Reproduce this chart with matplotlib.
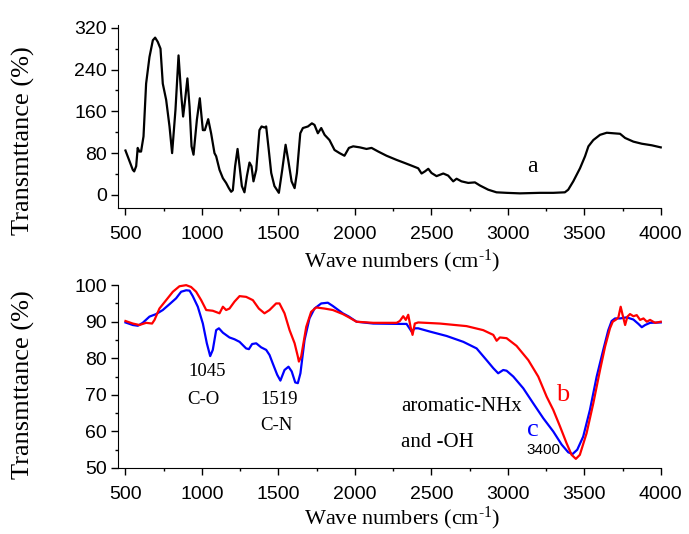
import numpy as np
import matplotlib.pyplot as plt
from matplotlib.ticker import MultipleLocator

# FTIR spectra
# (a) top panel
wa = [500, 548, 557, 570, 580, 591, 602, 618, 635, 657, 679, 694, 711, 729, 744,
      766, 788, 805, 827, 847, 864, 877, 890, 905, 919, 932, 945, 967, 986, 1006,
      1019, 1041, 1060, 1082, 1093, 1115, 1137, 1158, 1176, 1191, 1202, 1217,
      1233, 1246, 1261, 1278, 1294, 1311, 1324, 1337, 1355, 1376, 1390, 1409,
      1420, 1437, 1453, 1474, 1503, 1525, 1547, 1564, 1586, 1606, 1621, 1643,
      1660, 1693, 1719, 1736, 1758, 1780, 1802, 1834, 1867, 1900, 1932, 1961,
      1989, 2033, 2076, 2109, 2153, 2207, 2273, 2327, 2371, 2414, 2436, 2458,
      2480, 2501, 2534, 2578, 2610, 2643, 2665, 2697, 2741, 2785, 2818, 2872,
      2926, 2992, 3079, 3210, 3297, 3373, 3395, 3428, 3472, 3505, 3527, 3559,
      3603, 3647, 3690, 3734, 3767, 3821, 3876, 3941, 4000]
ta = [85, 48, 45, 55, 90, 83, 83, 112, 213, 264, 296, 301, 293, 280, 213,
      182, 131, 80, 163, 267, 194, 150, 182, 223, 169, 93, 77, 144, 185, 124,
      124, 145, 118, 80, 74, 48, 32, 23, 13, 6, 9, 55,
      88, 55, 17, 5, 36, 62, 55, 26, 48, 124, 131, 129,
      131, 86, 42, 17, 4, 48, 96, 67, 26, 13, 42, 118,
      128, 131, 137, 134, 118, 128, 115, 105, 86, 80, 75, 90,
      93, 91, 88, 90, 83, 75, 67, 61, 56, 51, 41, 45,
      50, 42, 36, 41, 37, 26, 31, 26, 23, 24, 18, 10,
      5, 4, 3, 4, 4, 5, 10, 26, 51, 74, 93, 105,
      115, 119, 118, 117, 109, 102, 98, 95, 91]

# (b) red curve, bottom panel
wb = [500, 548, 591, 635, 674, 690, 722, 766, 810, 853, 897, 929, 962, 995,
      1028, 1071, 1115, 1137, 1158, 1180, 1213, 1246, 1289, 1333, 1372, 1409,
      1442, 1485, 1507, 1540, 1573, 1606, 1627, 1634, 1649, 1682, 1714, 1747,
      1802, 1856, 1921, 1961, 2011, 2120, 2273, 2294, 2316, 2333, 2349, 2364,
      2377, 2392, 2414, 2556, 2730, 2839, 2905, 2927, 2948, 2992, 3057, 3134,
      3199, 3254, 3297, 3341, 3384, 3417, 3445, 3471, 3515, 3559, 3603, 3636,
      3668, 3686, 3708, 3723, 3738, 3751, 3767, 3782, 3799, 3821, 3843, 3865,
      3887, 3909, 3930, 3963, 4000]
tb = [90.2, 89.5, 89.1, 89.7, 89.5, 90.5, 93.6, 95.9, 98.2, 99.7, 100, 99.5, 98.2, 95.9,
      93.2, 93.0, 92.3, 94.1, 93.2, 93.6, 95.5, 97.0, 96.8, 95.9, 93.6, 92.3,
      93.2, 95.0, 95.0, 92.3, 87.7, 84.1, 80.5, 79.1, 80.5, 88.6, 92.7, 93.9,
      93.6, 93.2, 92.1, 91.2, 90.0, 89.7, 89.7, 90.2, 91.5, 90.5, 91.9, 88.6,
      86.4, 89.5, 89.8, 89.5, 88.8, 87.7, 86.4, 84.8, 85.7, 85.5, 83.4, 79.5,
      75.0, 69.5, 65.9, 61.4, 56.8, 53.6, 52.5, 53.6, 59.5, 67.7, 76.8, 83.2,
      88.2, 90.0, 90.6, 91.2, 94.1, 91.8, 89.1, 91.4, 92.1, 91.5, 91.8, 90.5,
      90.9, 90.0, 90.5, 89.7, 90.0]

# (c) blue curve, bottom panel
wc = [500, 548, 581, 613, 657, 701, 744, 788, 831, 864, 897, 919, 940, 973,
      1006, 1032, 1054, 1071, 1093, 1111, 1137, 1180, 1213, 1246, 1289, 1307,
      1328, 1355, 1387, 1420, 1442, 1463, 1492, 1513, 1540, 1566, 1587, 1610,
      1627, 1644, 1671, 1703, 1736, 1780, 1823, 1856, 1921, 1961, 2011, 2120,
      2294, 2338, 2371, 2392, 2414, 2491, 2600, 2709, 2796, 2861, 2905, 2937,
      2970, 2992, 3036, 3101, 3166, 3232, 3297, 3352, 3395, 3423, 3454, 3493,
      3537, 3581, 3624, 3657, 3679, 3701, 3734, 3777, 3821, 3854, 3876, 3898,
      3930, 4000]
tc = [89.8, 89.1, 88.9, 89.7, 91.4, 92.1, 93.2, 94.8, 96.4, 98.2, 98.6, 98.5, 97.0, 94.1,
      89.5, 84.1, 80.6, 82.3, 87.7, 88.2, 87.0, 85.7, 85.2, 84.5, 82.7, 82.5,
      83.9, 84.1, 83.0, 82.3, 80.9, 78.6, 75.5, 73.9, 76.8, 77.7, 76.4, 73.4,
      73.2, 75.9, 85.0, 90.9, 93.6, 95.0, 95.2, 94.3, 92.3, 91.4, 90.0, 89.5,
      89.4, 89.4, 87.3, 88.2, 88.2, 87.3, 86.1, 84.5, 82.7, 79.5, 77.3, 75.9,
      76.8, 76.6, 75.0, 71.8, 67.7, 63.6, 60.0, 56.4, 54.3, 53.8, 55.0, 58.6,
      65.9, 75.0, 82.3, 87.7, 90.2, 90.9, 90.9, 91.2, 90.6, 89.4, 88.5, 89.1,
      89.7, 89.8]

SANS = 'Liberation Sans'
SERIF = 'Liberation Serif'
TICK_SIZE = 14
LABEL_SIZE = 16
YLABEL_SIZE = 19

plt.rcParams['mathtext.fontset'] = 'custom'
plt.rcParams['mathtext.rm'] = SERIF
plt.rcParams['mathtext.it'] = SERIF + ':italic'

XLABEL = 'Wave numbers (cm$^{\\text{-1}}$)'

fig = plt.figure(figsize=(6.89, 5.34), dpi=100)
axTop = fig.add_axes([0.171, 0.6105, 0.788, 0.3425])
axBot = fig.add_axes([0.171, 0.1236, 0.788, 0.3424])


def style(ax, ymajor, yminor):
    ax.spines['top'].set_visible(False)
    ax.spines['right'].set_visible(False)
    ax.xaxis.set_major_locator(MultipleLocator(500))
    ax.xaxis.set_minor_locator(MultipleLocator(250))
    ax.yaxis.set_major_locator(MultipleLocator(ymajor))
    ax.yaxis.set_minor_locator(MultipleLocator(yminor))
    ax.tick_params(which='major', direction='out', length=5, width=1)
    ax.tick_params(which='minor', direction='out', length=2.5, width=1)
    ax.tick_params(axis='x', pad=8)
    ax.tick_params(axis='y', pad=3)
    for lab in ax.get_xticklabels() + ax.get_yticklabels():
        lab.set_fontfamily(SANS)
        lab.set_fontsize(TICK_SIZE)
    ax.set_xlabel(XLABEL, fontfamily=SERIF, fontsize=LABEL_SIZE)
    ax.set_ylabel('Transmttance (%)', fontfamily=SERIF, fontsize=YLABEL_SIZE)


# top panel
axTop.plot(wa, ta, color='black', lw=1.6, clip_on=False)
axTop.set_xlim(450, 4000)
axTop.set_ylim(-25, 325)
style(axTop, 80, 40)
axTop.xaxis.set_label_coords(0.523, -0.215)
axTop.yaxis.set_label_coords(-0.153, 0.37)
axTop.text(3162, 55, 'a', fontfamily=SERIF, fontsize=17, ha='center', va='center')

# bottom panel
axBot.plot(wc, tc, color='#0000ff', lw=1.6, clip_on=False)
axBot.plot(wb, tb, color='#ff0000', lw=1.6, clip_on=False)
axBot.set_xlim(450, 4000)
axBot.set_ylim(50, 100)
style(axBot, 10, 5)
axBot.xaxis.set_label_coords(0.523, -0.2)
axBot.yaxis.set_label_coords(-0.153, 0.454)

axBot.text(1034, 76.4, '1045', fontfamily=SERIF, fontsize=13.5, ha='center', va='center')
axBot.text(1012, 68.6, 'C-O', fontfamily=SERIF, fontsize=13.5, ha='center', va='center')
axBot.text(1503, 68.6, '1519', fontfamily=SERIF, fontsize=13.5, ha='center', va='center')
axBot.text(1485, 61.5, 'C-N', fontfamily=SERIF, fontsize=13.5, ha='center', va='center')
axBot.text(2301, 66.8, 'aromatic-NHx', fontfamily=SERIF, fontsize=15, ha='left', va='center')
axBot.text(2301, 57.0, 'and -OH', fontfamily=SERIF, fontsize=15, ha='left', va='center')
axBot.text(3358, 70.0, 'b', fontfamily=SERIF, fontsize=19, color='#ff0000',
           ha='center', va='center')
axBot.text(3162, 60.5, 'c', fontfamily=SERIF, fontsize=19, color='#0000ff',
           ha='center', va='center')
axBot.text(3230, 54.8, '3400', fontfamily=SANS, fontsize=11, ha='center', va='center')

fig.savefig('out.png', dpi=100)
